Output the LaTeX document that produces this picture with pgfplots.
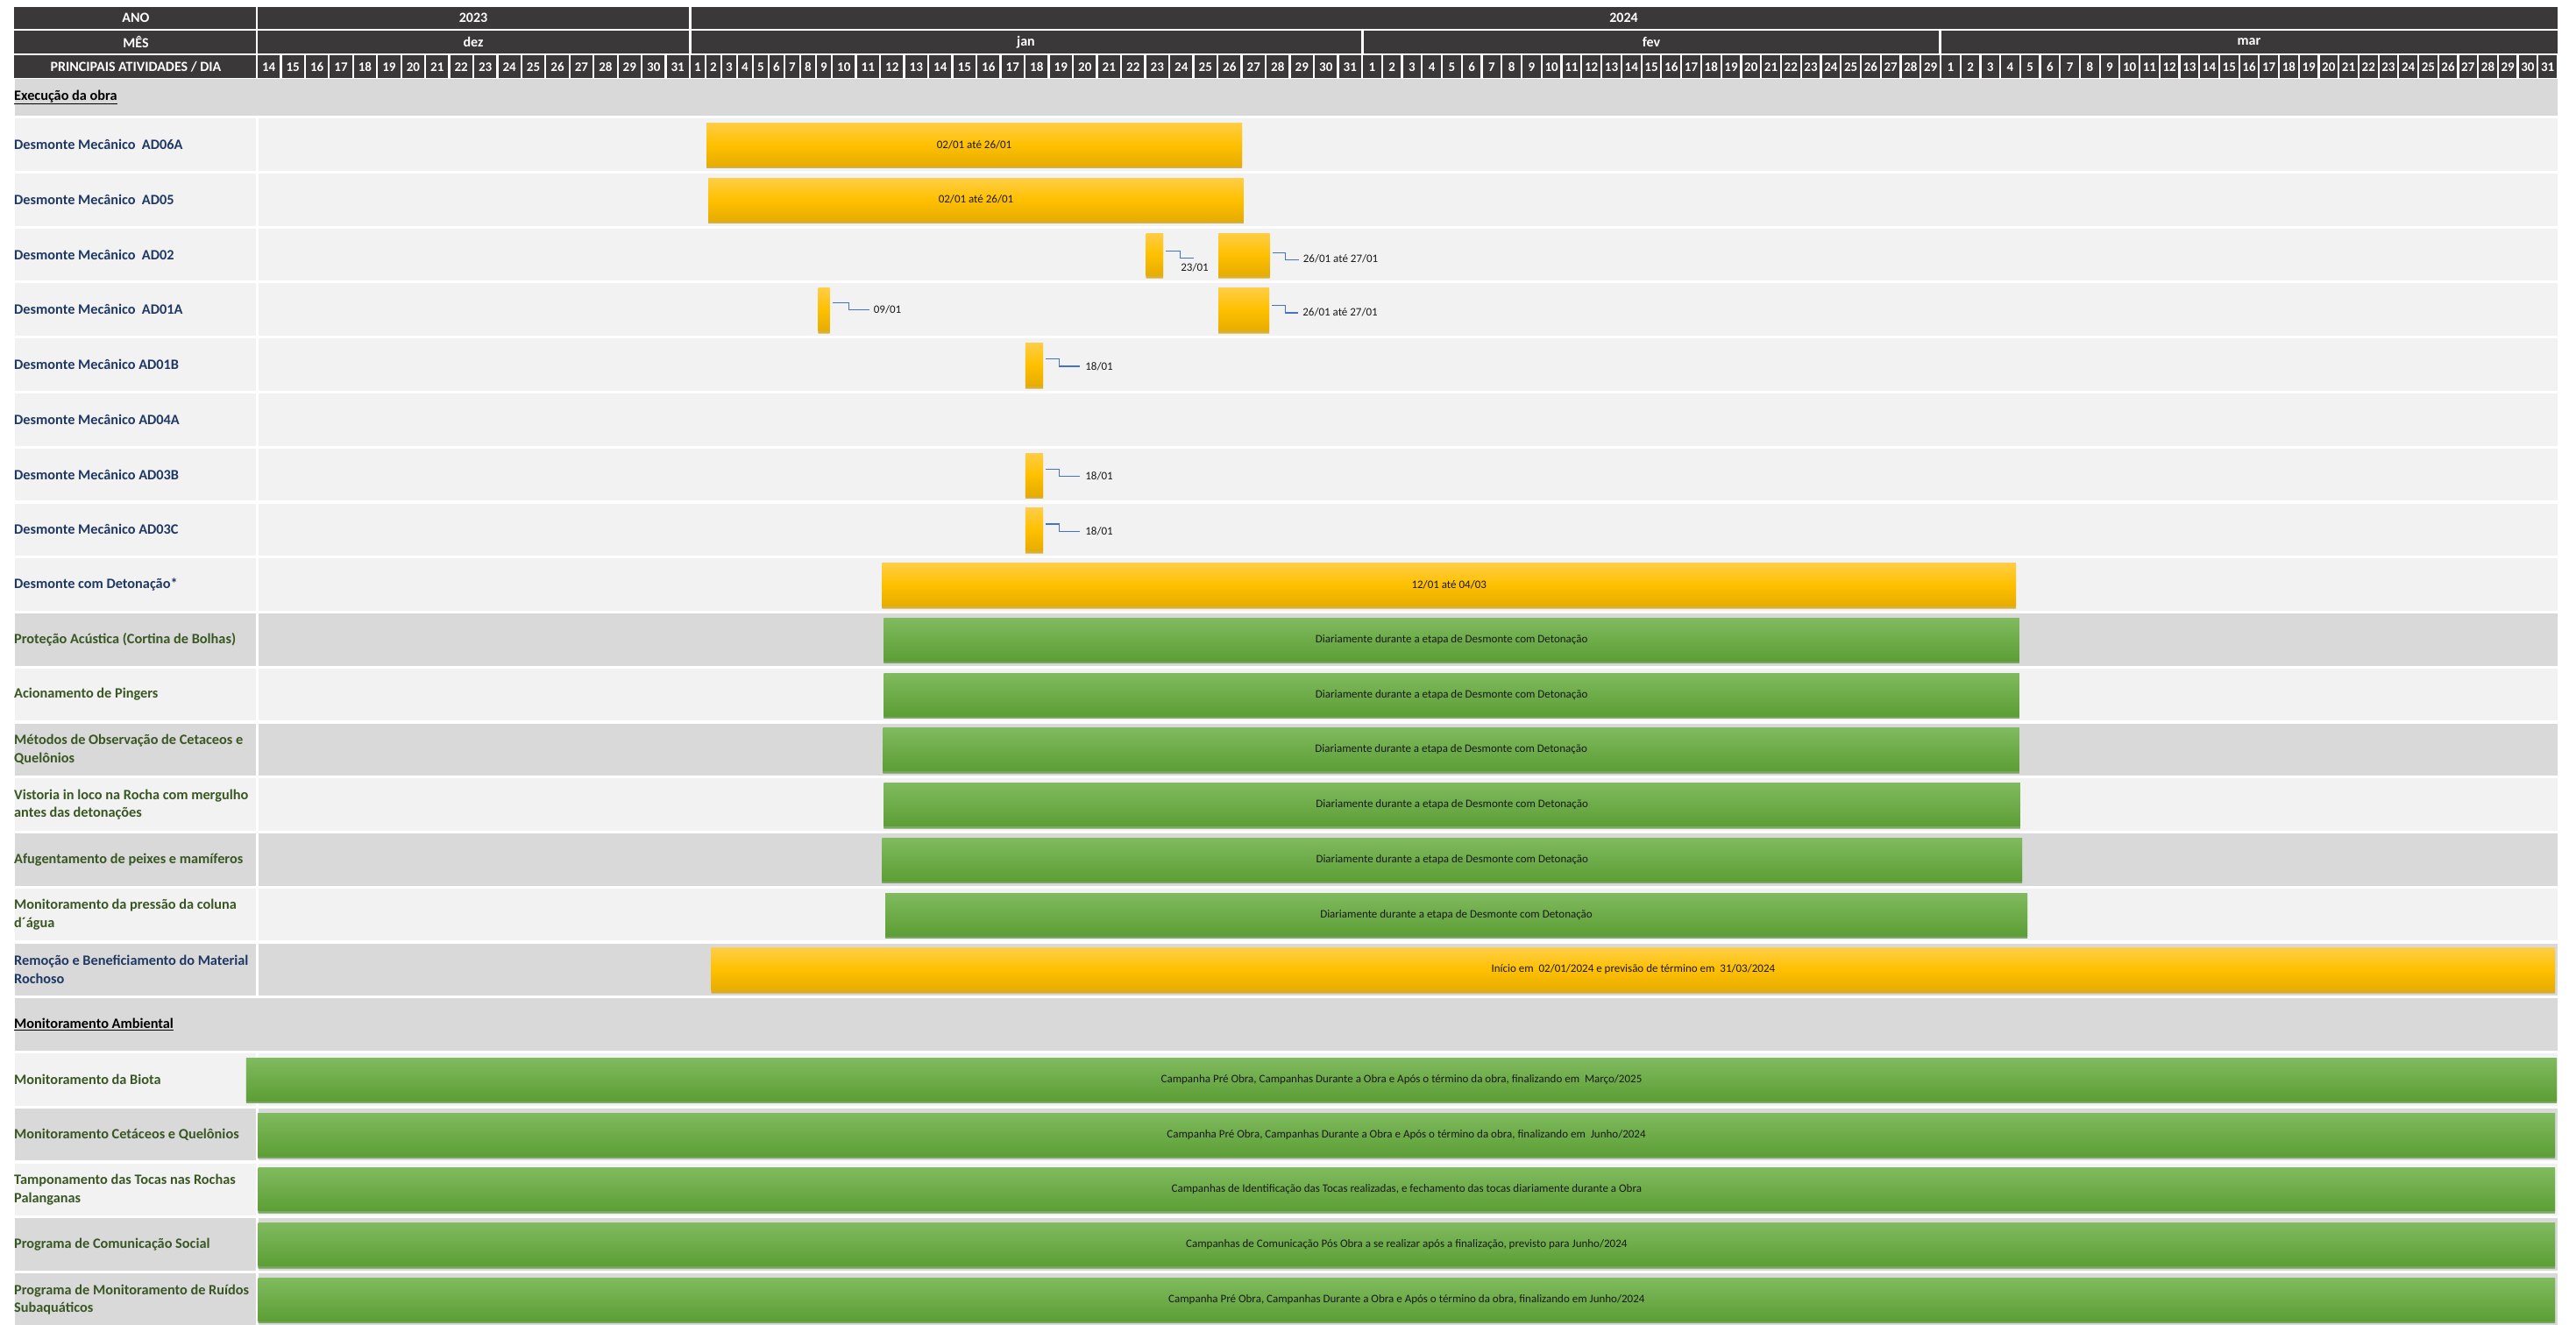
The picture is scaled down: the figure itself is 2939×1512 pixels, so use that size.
\documentclass[border=0pt]{standalone}
\usepackage{fontspec}
\setmainfont{Carlito}
\usepackage{pgfplots}
\pgfplotsset{compat=1.18}
\usetikzlibrary{calc}

\definecolor{hdr}{HTML}{3A3838}
\definecolor{rowL}{HTML}{F2F2F2}
\definecolor{rowD}{HTML}{D9D9D9}
\definecolor{navy}{HTML}{1F3864}
\definecolor{dgreen}{HTML}{385723}
\definecolor{ylwT}{HTML}{FFCD45}
\definecolor{ylwM}{HTML}{FFC000}
\definecolor{ylwB}{HTML}{E6AC00}
\definecolor{grnT}{HTML}{80BA5E}
\definecolor{grnB}{HTML}{5C9E35}
\definecolor{callc}{HTML}{4472C4}

\tikzset{
  lab/.style={anchor=west, align=left, inner sep=0pt, font=\fontsize{16.3}{20.7}\selectfont\bfseries},
  htxt/.style={inner sep=0pt, text=white, font=\fontsize{16}{19}\selectfont\bfseries},
  dtxt/.style={inner sep=0pt, text=white, font=\fontsize{15}{18}\selectfont\bfseries},
  btxt/.style={inner sep=0pt, text=black!90, font=\fontsize{13}{15}\selectfont},
  ctxt/.style={inner sep=0pt, anchor=west, text=black!90, font=\fontsize{13}{15}\selectfont},
  ylw/.style={draw=none, top color=ylwT, bottom color=ylwB, middle color=ylwM,
    preaction={fill=black!45, opacity=0.6, transform canvas={yshift=-2.5pt}}},
  grn/.style={draw=none, top color=grnT, bottom color=grnB,
    preaction={fill=black!45, opacity=0.6, transform canvas={yshift=-2.5pt}}},
  callout/.style={draw=callc, line width=1.2pt},
}

% bar: start, end, row, style, text
\newcommand\gbar[5]{%
  \pgfmathsetmacro\yt{#3+0.11}%
  \pgfmathsetmacro\yb{#3+0.89}%
  \pgfmathsetmacro\ym{#3+0.5}%
  \edef\tmp{\noexpand\addplot[#4] coordinates {(#1,\yt) (#2,\yt) (#2,\yb) (#1,\yb)};}%
  \tmp
  \edef\tmp{\noexpand\node[btxt] at ($(axis cs:#1,\ym)!0.5!(axis cs:#2,\ym)$) {\unexpanded{#5}};}%
  \tmp}

% elbow callout: bar end, y1, y2, corner shift, end shift
\newcommand\callout[5]{%
  \draw[callout] ([xshift=3pt]axis cs:#1,#2) -- ([xshift=#4pt]axis cs:#1,#2)
    -- ([xshift=#4pt]axis cs:#1,#3) -- ([xshift=#5pt]axis cs:#1,#3);}

\newcommand\rowbg[2]{%
  \pgfmathsetmacro\ra{#1+0.025}\pgfmathsetmacro\rb{#1+0.975}%
  \fill[#2] (axis cs:-10.06,\ra) rectangle (axis cs:-0.036,\rb);
  \fill[#2] (axis cs:0.073,\ra) rectangle (axis cs:109,\rb);}

\newcommand\daycell[2]{%
  \pgfmathsetmacro\e{#1+1}%
  \fill[hdr] ([xshift=1.1pt]axis cs:#1,-1.125) rectangle ([xshift=-1.1pt]axis cs:\e,-0.703);
  \node[dtxt] at ($(axis cs:#1,-0.914)!0.5!(axis cs:\e,-0.914)$) {#2};}

\begin{document}
\begin{tikzpicture}
\path[use as bounding box] (0,0) rectangle (2939pt,1512pt);
\begin{axis}[
  at={(0,0)}, anchor=south west,
  width=2939pt, height=1512pt, scale only axis,
  hide axis, clip=false,
  % day columns: dez 14-31, jan 1-9 narrow, jan 10-31, fev, mar
  x coord trafo/.code={\pgfmathparse{(#1)<18 ? 293+27.44*(#1) : ((#1)<27 ? 787+18*((#1)-18) : ((#1)<49 ? 949+27.5*((#1)-27) : ((#1)<78 ? 1554+22.76*((#1)-49) : 2214+22.71*((#1)-78))))}},
  xmin=-10.678, xmax=109.925,
  ymin=-2.129, ymax=21.963, y dir=reverse,
]

\pgfplotsextra{
  % header: ano
  \fill[hdr] ([xshift=-1.2pt]axis cs:-10.06,-2.001) rectangle ([xshift=-1.2pt]axis cs:0,-1.603);
  \fill[hdr] ([xshift=1.2pt]axis cs:0,-2.001) rectangle ([xshift=-1.5pt]axis cs:18,-1.603);
  \fill[hdr] ([xshift=1.5pt]axis cs:18,-2.001) rectangle (axis cs:109,-1.603);
  \node[htxt] at ($(axis cs:-10.06,-1.802)!0.5!(axis cs:0,-1.802)$) {ANO};
  \node[htxt] at ($(axis cs:0,-1.802)!0.5!(axis cs:18,-1.802)$) {2023};
  \node[htxt] at ($(axis cs:18,-1.802)!0.5!(axis cs:109,-1.802)$) {2024};
  % header: mes
  \fill[hdr] ([xshift=-1.2pt]axis cs:-10.06,-1.571) rectangle ([xshift=-1.2pt]axis cs:0,-1.157);
  \fill[hdr] ([xshift=1.2pt]axis cs:0,-1.571) rectangle ([xshift=-1.5pt]axis cs:18,-1.157);
  \fill[hdr] ([xshift=1.5pt]axis cs:18,-1.571) rectangle ([xshift=-1.5pt]axis cs:49,-1.157);
  \fill[hdr] ([xshift=1.5pt]axis cs:49,-1.571) rectangle ([xshift=-1.5pt]axis cs:78,-1.157);
  \fill[hdr] ([xshift=1.5pt]axis cs:78,-1.571) rectangle (axis cs:109,-1.157);
  \node[htxt] at ($(axis cs:-10.06,-1.364)!0.5!(axis cs:0,-1.364)$) {MÊS};
  \node[htxt] at ($(axis cs:0,-1.364)!0.5!(axis cs:18,-1.364)$) {dez};
  \node[htxt] at ($(axis cs:18,-1.364)!0.5!(axis cs:49,-1.364)$) {jan};
  \node[htxt] at ($(axis cs:49,-1.364)!0.5!(axis cs:78,-1.364)$) {fev};
  \node[htxt] at ($(axis cs:78,-1.364)!0.5!(axis cs:109,-1.364)$) {mar};
  % header: dias
  \fill[hdr] ([xshift=-1.2pt]axis cs:-10.06,-1.125) rectangle ([xshift=-1.2pt]axis cs:0,-0.703);
  \node[htxt] at ($(axis cs:-10.06,-0.914)!0.5!(axis cs:0,-0.914)$) {PRINCIPAIS ATIVIDADES / DIA};
  \foreach \d in {14,...,31} {\pgfmathtruncatemacro\s{\d-14}\daycell{\s}{\d}}
  \foreach \d in {1,...,31} {\pgfmathtruncatemacro\s{\d+17}\daycell{\s}{\d}}
  \foreach \d in {1,...,29} {\pgfmathtruncatemacro\s{\d+48}\daycell{\s}{\d}}
  \foreach \d in {1,...,31} {\pgfmathtruncatemacro\s{\d+77}\daycell{\s}{\d}}
  % section rows
  \fill[rowD] (axis cs:-10.06,-0.687) rectangle (axis cs:109,-0.025);
  \fill[rowD] (axis cs:-10.06,16.025) rectangle (axis cs:109,16.975);
  % activity rows
  \rowbg{0}{rowL}\rowbg{1}{rowL}\rowbg{2}{rowL}\rowbg{3}{rowL}\rowbg{4}{rowL}
  \rowbg{5}{rowL}\rowbg{6}{rowL}\rowbg{7}{rowL}\rowbg{8}{rowL}
  \rowbg{9}{rowD}\rowbg{10}{rowL}\rowbg{11}{rowD}\rowbg{12}{rowL}\rowbg{13}{rowD}
  \rowbg{14}{rowL}\rowbg{15}{rowD}
  \rowbg{17}{rowL}\rowbg{18}{rowD}\rowbg{19}{rowL}\rowbg{20}{rowD}\rowbg{21}{rowD}
}

% row labels
\node[lab, text=black] at (axis cs:-10.095,-0.36) {\underline{Execução da obra}};
\node[lab, text=navy] at (axis cs:-10.095,0.5) {Desmonte Mecânico\ \ AD06A};
\node[lab, text=navy] at (axis cs:-10.095,1.5) {Desmonte Mecânico\ \ AD05};
\node[lab, text=navy] at (axis cs:-10.095,2.5) {Desmonte Mecânico\ \ AD02};
\node[lab, text=navy] at (axis cs:-10.095,3.5) {Desmonte Mecânico\ \ AD01A};
\node[lab, text=navy] at (axis cs:-10.095,4.5) {Desmonte Mecânico AD01B};
\node[lab, text=navy] at (axis cs:-10.095,5.5) {Desmonte Mecânico AD04A};
\node[lab, text=navy] at (axis cs:-10.095,6.5) {Desmonte Mecânico AD03B};
\node[lab, text=navy] at (axis cs:-10.095,7.5) {Desmonte Mecânico AD03C};
\node[lab, text=navy] at (axis cs:-10.095,8.5) {Desmonte com Detonação*};
\node[lab, text=dgreen] at (axis cs:-10.095,9.5) {Proteção Acústica (Cortina de Bolhas)};
\node[lab, text=dgreen] at (axis cs:-10.095,10.5) {Acionamento de Pingers};
\node[lab, text=dgreen] at (axis cs:-10.095,11.5) {Métodos de Observação de Cetaceos e\\Quelônios};
\node[lab, text=dgreen] at (axis cs:-10.095,12.5) {Vistoria in loco na Rocha com mergulho\\antes das detonações};
\node[lab, text=dgreen] at (axis cs:-10.095,13.5) {Afugentamento de peixes e mamíferos};
\node[lab, text=dgreen] at (axis cs:-10.095,14.5) {Monitoramento da pressão da coluna\\d´água};
\node[lab, text=navy] at (axis cs:-10.095,15.5) {Remoção e Beneficiamento do Material\\Rochoso};
\node[lab, text=black] at (axis cs:-10.095,16.5) {\underline{Monitoramento Ambiental}};
\node[lab, text=dgreen] at (axis cs:-10.095,17.5) {Monitoramento da Biota};
\node[lab, text=dgreen] at (axis cs:-10.095,18.5) {Monitoramento Cetáceos e Quelônios};
\node[lab, text=dgreen] at (axis cs:-10.095,19.5) {Tamponamento das Tocas nas Rochas\\Palanganas};
\node[lab, text=dgreen] at (axis cs:-10.095,20.5) {Programa de Comunicação Social};
\node[lab, text=dgreen] at (axis cs:-10.095,21.5) {Programa de Monitoramento de Ruídos\\Subaquáticos};

% bars: day index (0 = 14/12/2023), row
\gbar{19.06}{44.02}{0}{ylw}{02/01 até 26/01}
\gbar{19.17}{44.09}{1}{ylw}{02/01 até 26/01}
\gbar{40.04}{40.75}{2}{ylw}{}
\gbar{43.04}{45.17}{2}{ylw}{}
\gbar{26.14}{26.87}{3}{ylw}{}
\gbar{43.04}{45.15}{3}{ylw}{}
\gbar{35.03}{35.77}{4}{ylw}{}
\gbar{35.03}{35.77}{6}{ylw}{}
\gbar{35.03}{35.77}{7}{ylw}{}
\gbar{29.09}{81.79}{8}{ylw}{12/01 até 04/03}
\gbar{29.16}{81.96}{9}{grn}{Diariamente durante a etapa de Desmonte com Detonação}
\gbar{29.16}{81.96}{10}{grn}{Diariamente durante a etapa de Desmonte com Detonação}
\gbar{29.12}{81.96}{11}{grn}{Diariamente durante a etapa de Desmonte com Detonação}
\gbar{29.16}{82.00}{12}{grn}{Diariamente durante a etapa de Desmonte com Detonação}
\gbar{29.09}{82.10}{13}{grn}{Diariamente durante a etapa de Desmonte com Detonação}
\gbar{29.22}{82.36}{14}{grn}{Diariamente durante a etapa de Desmonte com Detonação}
\gbar{19.37}{108.87}{15}{ylw}{Início em\ \ 02/01/2024 e previsão de término em\ \ 31/03/2024}
\gbar{-0.44}{108.96}{17}{grn}{Campanha Pré Obra, Campanhas Durante a Obra e Após o término da obra, finalizando em\ \ Março/2025}
\gbar{0.04}{108.87}{18}{grn}{Campanha Pré Obra, Campanhas Durante a Obra e Após o término da obra, finalizando em\ \ Junho/2024}
\gbar{0.06}{108.87}{19}{grn}{Campanhas de Identificação das Tocas realizadas, e fechamento das tocas diariamente durante a Obra}
\gbar{0.06}{108.87}{20}{grn}{Campanhas de Comunicação Pós Obra a se realizar após a finalização, previsto para Junho/2024}
\gbar{0.06}{108.87}{21}{grn}{Campanha Pré Obra, Campanhas Durante a Obra e Após o término da obra, finalizando em Junho/2024}

% callouts
\callout{40.75}{2.43}{2.56}{19}{35}
\node[ctxt] at ([xshift=20pt]axis cs:40.75,2.73) {23/01};
\callout{45.17}{2.47}{2.60}{18}{33}
\node[ctxt] at ([xshift=38pt]axis cs:45.17,2.58) {26/01 até 27/01};
\callout{26.87}{3.38}{3.50}{22}{45}
\node[ctxt] at ([xshift=50pt]axis cs:26.87,3.50) {09/01};
\callout{45.15}{3.43}{3.56}{18}{33}
\node[ctxt] at ([xshift=38pt]axis cs:45.15,3.55) {26/01 até 27/01};
\callout{35.77}{4.40}{4.53}{18}{42}
\node[ctxt] at ([xshift=48pt]axis cs:35.77,4.53) {18/01};
\callout{35.77}{6.40}{6.53}{18}{42}
\node[ctxt] at ([xshift=48pt]axis cs:35.77,6.53) {18/01};
\callout{35.77}{7.40}{7.53}{18}{42}
\node[ctxt] at ([xshift=48pt]axis cs:35.77,7.53) {18/01};

\end{axis}
\end{tikzpicture}
\end{document}
